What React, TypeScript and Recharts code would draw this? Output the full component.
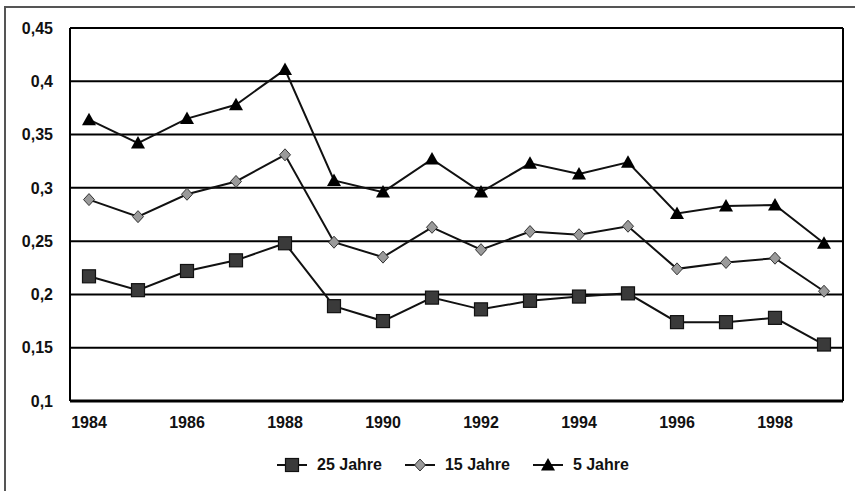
import React from 'react';
import { LineChart, Line, XAxis, YAxis, CartesianGrid, Legend } from 'recharts';

const years = ['1984', '1985', '1986', '1987', '1988', '1989', '1990', '1991', '1992', '1993', '1994', '1995', '1996', '1997', '1998', '1999'];
const jahre25 = [0.217, 0.204, 0.222, 0.232, 0.248, 0.189, 0.175, 0.197, 0.186, 0.194, 0.198, 0.201, 0.174, 0.174, 0.178, 0.153];
const jahre15 = [0.289, 0.273, 0.294, 0.306, 0.331, 0.249, 0.235, 0.263, 0.242, 0.259, 0.256, 0.264, 0.224, 0.23, 0.234, 0.203];
const jahre5 = [0.364, 0.342, 0.365, 0.378, 0.411, 0.307, 0.296, 0.327, 0.296, 0.323, 0.313, 0.324, 0.276, 0.283, 0.284, 0.248];
const yTicks = [0.1, 0.15, 0.2, 0.25, 0.3, 0.35, 0.4, 0.45];
const xTicks = ['1984', '1986', '1988', '1990', '1992', '1994', '1996', '1998'];

const data = years.map((y, i) => ({ year: y, j25: jahre25[i], j15: jahre15[i], j5: jahre5[i] }));

const font = '"Liberation Sans", Arial, sans-serif';
const fmt = (v: number) => Number(v.toFixed(2)).toString().replace('.', ',');

const Square = ({ cx, cy }: any) => (
  <rect x={cx - 6.5} y={cy - 6.5} width={13} height={13} fill="#3a3a3a" stroke="#111" strokeWidth={1.2} />
);
const Diamond = ({ cx, cy }: any) => (
  <path d={`M${cx},${cy - 6} L${cx + 5.5},${cy} L${cx},${cy + 6} L${cx - 5.5},${cy} Z`} fill="#9a9a9a" stroke="#333" strokeWidth={1} />
);
const Triangle = ({ cx, cy }: any) => (
  <path d={`M${cx},${cy - 7} L${cx + 7},${cy + 5.5} L${cx - 7},${cy + 5.5} Z`} fill="#000" />
);

const legendItems = [
  { label: '25 Jahre', Shape: Square },
  { label: '15 Jahre', Shape: Diamond },
  { label: '5 Jahre', Shape: Triangle },
];

const LegendContent = () => (
  <div style={{ display: 'flex', justifyContent: 'flex-start', paddingLeft: 267, paddingTop: 15, gap: 23, fontFamily: font, fontSize: 16, fontWeight: 'bold', color: '#111' }}>
    {legendItems.map(({ label, Shape }) => (
      <div key={label} style={{ display: 'flex', alignItems: 'center', gap: 10 }}>
        <svg width={30} height={16}>
          <line x1={0} y1={8} x2={30} y2={8} stroke="#111" strokeWidth={2} />
          <Shape cx={15} cy={8} />
        </svg>
        <span>{label}</span>
      </div>
    ))}
  </div>
);

export default function App() {
  return (
    <div style={{ position: 'absolute', left: 0, top: 0, width: 855, height: 491, background: '#fff' }}>
      <div style={{ position: 'absolute', left: 4, top: 6, width: 851, height: 485, borderTop: '2px solid #555', borderLeft: '2px solid #555' }} />
      <LineChart width={855} height={491} data={data} margin={{ top: 28, right: 12, left: 10, bottom: 10 }}>
        <CartesianGrid
          stroke="#000"
          strokeWidth={2}
          verticalCoordinatesGenerator={({ offset }: any) => [offset.left + offset.width]}
        />
        <XAxis
          dataKey="year"
          ticks={xTicks}
          padding={{ left: 19, right: 19 }}
          tickLine={false}
          axisLine={{ stroke: '#000', strokeWidth: 3 }}
          tick={{ fill: '#111', fontSize: 16, fontWeight: 'bold', fontFamily: font }}
          height={40}
          tickMargin={10}
        />
        <YAxis
          domain={[0.1, 0.45]}
          ticks={yTicks}
          tickFormatter={fmt}
          width={60}
          tickLine={false}
          axisLine={{ stroke: '#000', strokeWidth: 2 }}
          tick={{ fill: '#111', fontSize: 16, fontWeight: 'bold', fontFamily: font }}
          tickMargin={11}
        />
        <Legend verticalAlign="bottom" height={40} content={LegendContent} />
        <Line dataKey="j25" name="25 Jahre" stroke="#111" strokeWidth={2} dot={<Square />} isAnimationActive={false} />
        <Line dataKey="j15" name="15 Jahre" stroke="#111" strokeWidth={2} dot={<Diamond />} isAnimationActive={false} />
        <Line dataKey="j5" name="5 Jahre" stroke="#111" strokeWidth={2} dot={<Triangle />} isAnimationActive={false} />
      </LineChart>
    </div>
  );
}
